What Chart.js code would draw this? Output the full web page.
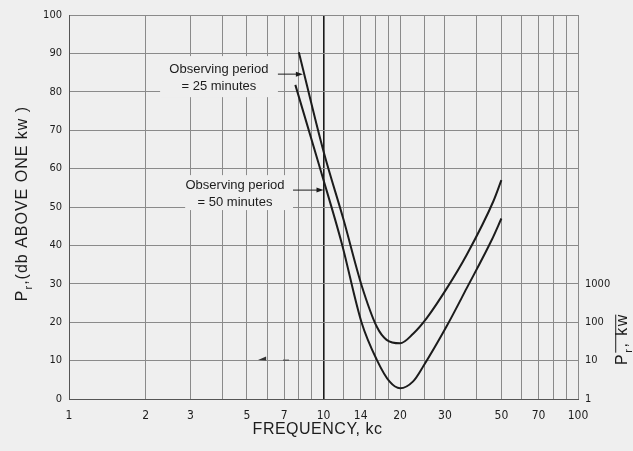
<!DOCTYPE html>
<html>
<head>
<meta charset="utf-8">
<script src="https://cdn.jsdelivr.net/npm/chart.js@4/dist/chart.umd.min.js"></script>
<style>
  html, body { margin: 0; padding: 0; background: #efefef; }
  canvas { display: block; }
</style>
</head>
<body>
<canvas id="c" width="633" height="451"></canvas>
<script>
// Received power level (db above one kw) against frequency (kc), two observing periods
const freq25  = [8.0, 10.0, 12.0, 14.1, 16.2, 17.7, 20, 22.5, 25.4, 30.5, 36.5, 46.5, 50];
const level25 = [90.3, 64.5, 46.6, 29.7, 18.8, 15.4, 14.5, 17.0, 21.0, 28.8, 37.5, 51.5, 57.0];
const freq50  = [7.75, 9.75, 11.8, 14.1, 16.2, 18.2, 20, 22.5, 24.7, 30.5, 36.5, 45.8, 50];
const level50 = [81.8, 59.5, 40.5, 20.0, 10.2, 4.5, 2.8, 4.6, 8.6, 19.0, 28.8, 41.4, 47.0];

// Axis ticks
const xGridValues  = [1, 2, 3, 4, 5, 6, 7, 8, 9, 10, 12, 14, 16, 18, 20, 25, 30, 40, 50, 60, 70, 80, 90, 100];
const xTickLabels  = [1, 2, 3, 5, 7, 10, 14, 20, 30, 50, 70, 100];
const rightTickValues = [0, 10, 20, 30];
const rightTickLabels = ['1', '10', '100', '1000'];

// Labels
const xTitle = 'FREQUENCY, kc';
const leftTitle = [{ t: 'P' }, { t: 'r', sub: true }, { t: ',(db ABOVE ONE kw )' }];
const rightTitle = [{ t: 'P' }, { t: 'r', sub: true, bar: true }, { t: ', kw', bar: true }];
const notes = [
  { lines: ['Observing period', '= 25 minutes'], textX: 3.88, lineY: [85.9, 81.4],
    box: [2.28, 6.62, 89.3, 78.6], leader: [6.62, 8.3, 84.6] },
  { lines: ['Observing period', '= 50 minutes'], textX: 4.49, lineY: [55.7, 51.3],
    box: [2.86, 7.59, 58.3, 49.2], leader: [7.59, 10.0, 54.4] }
];
// small stray arrow mark on the 10 db line near 6 kc
const strayMark = { head: [5.53, 5.95, 10.4], dash: [6.93, 7.32, 10.1] };

const BG = '#efefef';
const INK = '#1c1c1c';
const TICK_FONT = { family: "'Liberation Sans Narrow', 'DejaVu Sans Condensed', 'Liberation Sans', sans-serif", size: 11 };
const TITLE_FAMILY = "'Liberation Sans', Arial, sans-serif";

const toPoints = (xs, ys) => xs.map((x, i) => ({ x, y: ys[i] }));

function drawRich(ctx, parts, cx, cy, size, spacing) {
  ctx.save();
  ctx.translate(cx, cy);
  ctx.rotate(-Math.PI / 2);
  ctx.fillStyle = INK;
  ctx.strokeStyle = INK;
  ctx.textBaseline = 'alphabetic';
  const base = size * 0.36;
  const setFont = p => {
    ctx.font = (p.sub ? Math.round(size * 0.7) : size) + 'px ' + TITLE_FAMILY;
    ctx.letterSpacing = spacing + 'px';
  };
  let total = 0;
  const widths = parts.map(p => { setFont(p); const w = ctx.measureText(p.t).width; total += w; return w; });
  let x = -total / 2;
  let barStart = null, barEnd = null;
  parts.forEach((p, i) => {
    setFont(p);
    ctx.fillText(p.t, x, base + (p.sub ? size * 0.3 : 0));
    if (p.bar) {
      if (barStart === null) barStart = x;
      barEnd = x + widths[i] - spacing;
    }
    x += widths[i];
  });
  if (barStart !== null) {
    ctx.lineWidth = 1;
    ctx.beginPath();
    ctx.moveTo(barStart, -size * 0.33);
    ctx.lineTo(barEnd, -size * 0.33);
    ctx.stroke();
  }
  ctx.restore();
}

const decor = {
  id: 'decor',
  beforeDraw(chart) {
    const ctx = chart.ctx;
    ctx.save();
    ctx.fillStyle = BG;
    ctx.fillRect(0, 0, chart.width, chart.height);
    ctx.restore();
  },
  beforeDatasetsDraw(chart) {
    const ctx = chart.ctx;
    const xs = chart.scales.x, ys = chart.scales.y;
    ctx.save();
    notes.forEach(n => {
      // clear the grid behind the note
      const bx0 = xs.getPixelForValue(n.box[0]), bx1 = xs.getPixelForValue(n.box[1]);
      const by0 = ys.getPixelForValue(n.box[2]), by1 = ys.getPixelForValue(n.box[3]);
      ctx.fillStyle = BG;
      ctx.fillRect(bx0, by0, bx1 - bx0, by1 - by0);
      // note text
      ctx.fillStyle = INK;
      ctx.font = '13px ' + TITLE_FAMILY;
      ctx.textAlign = 'center';
      ctx.textBaseline = 'middle';
      const tx = xs.getPixelForValue(n.textX);
      n.lines.forEach((s, i) => ctx.fillText(s, tx, ys.getPixelForValue(n.lineY[i])));
      // leader with arrowhead
      const lx0 = xs.getPixelForValue(n.leader[0]), lx1 = xs.getPixelForValue(n.leader[1]);
      const ly = ys.getPixelForValue(n.leader[2]);
      ctx.strokeStyle = INK;
      ctx.lineWidth = 1;
      ctx.beginPath();
      ctx.moveTo(lx0, ly);
      ctx.lineTo(lx1 - 4, ly);
      ctx.stroke();
      ctx.beginPath();
      ctx.moveTo(lx1, ly);
      ctx.lineTo(lx1 - 7, ly - 2.5);
      ctx.lineTo(lx1 - 7, ly + 2.5);
      ctx.closePath();
      ctx.fill();
    });
    // stray arrow mark
    const hx0 = xs.getPixelForValue(strayMark.head[0]), hx1 = xs.getPixelForValue(strayMark.head[1]);
    const hy = ys.getPixelForValue(strayMark.head[2]);
    ctx.fillStyle = '#333';
    ctx.beginPath();
    ctx.moveTo(hx0, hy + 1);
    ctx.lineTo(hx1, hy - 2.5);
    ctx.lineTo(hx1, hy + 1.5);
    ctx.closePath();
    ctx.fill();
    const dx0 = xs.getPixelForValue(strayMark.dash[0]), dx1 = xs.getPixelForValue(strayMark.dash[1]);
    const dy = ys.getPixelForValue(strayMark.dash[2]);
    ctx.strokeStyle = '#555';
    ctx.lineWidth = 1.3;
    ctx.beginPath();
    ctx.moveTo(dx0, dy);
    ctx.lineTo(dx1, dy);
    ctx.stroke();
    ctx.restore();
  },
  afterDraw(chart) {
    const ctx = chart.ctx;
    const a = chart.chartArea;
    ctx.save();
    ctx.fillStyle = INK;
    ctx.font = '16px ' + TITLE_FAMILY;
    ctx.letterSpacing = '0.5px';
    ctx.textAlign = 'center';
    ctx.textBaseline = 'middle';
    ctx.fillText(xTitle, (a.left + a.right) / 2 - 6, 430);
    ctx.restore();
    drawRich(ctx, leftTitle, 21.5, 203.5, 16, 1);
    drawRich(ctx, rightTitle, 621, 339, 16, 1.5);
  }
};

new Chart(document.getElementById('c'), {
  type: 'line',
  data: {
    datasets: [
      { label: 'Observing period = 25 minutes', data: toPoints(freq25, level25) },
      { label: 'Observing period = 50 minutes', data: toPoints(freq50, level50) }
    ]
  },
  options: {
    responsive: false,
    animation: false,
    layout: { padding: { top: 15, left: 0, right: 0, bottom: 0 } },
    elements: {
      line: { borderColor: INK, borderWidth: 2, cubicInterpolationMode: 'monotone', fill: false },
      point: { radius: 0, hoverRadius: 0 }
    },
    plugins: { legend: { display: false }, tooltip: { enabled: false } },
    scales: {
      x: {
        type: 'logarithmic',
        position: 'bottom',
        min: 1, max: 100,
        afterBuildTicks: s => { s.ticks = xGridValues.map(v => ({ value: v })); },
        afterFit: s => { s.height = 52; },
        ticks: {
          autoSkip: false, maxRotation: 0, minRotation: 0, padding: 10,
          color: INK, font: { family: TICK_FONT.family, size: 12 },
          callback: v => xTickLabels.includes(v) ? String(v) : ''
        },
        grid: {
          drawTicks: false,
          color: c => (c.tick && c.tick.value === 10) ? '#1a1a1a' : '#8a8a8a',
          lineWidth: c => (c.tick && c.tick.value === 10) ? 1.6 : 1
        },
        border: { color: '#555', width: 1 }
      },
      y: {
        type: 'linear',
        position: 'left',
        min: 0, max: 100,
        afterFit: s => { s.width = 69; },
        ticks: { stepSize: 10, padding: 7, color: INK, font: TICK_FONT },
        grid: { drawTicks: false, color: '#8a8a8a', lineWidth: 1 },
        border: { color: '#555', width: 1 }
      },
      y2: {
        type: 'linear',
        position: 'right',
        min: 0, max: 100,
        afterBuildTicks: s => { s.ticks = rightTickValues.map(v => ({ value: v })); },
        afterFit: s => { s.width = 55; },
        ticks: {
          padding: 7, color: INK, font: TICK_FONT,
          callback: v => rightTickLabels[rightTickValues.indexOf(v)]
        },
        grid: { display: false, drawTicks: false },
        border: { display: false }
      }
    }
  },
  plugins: [decor]
});
</script>
</body>
</html>
